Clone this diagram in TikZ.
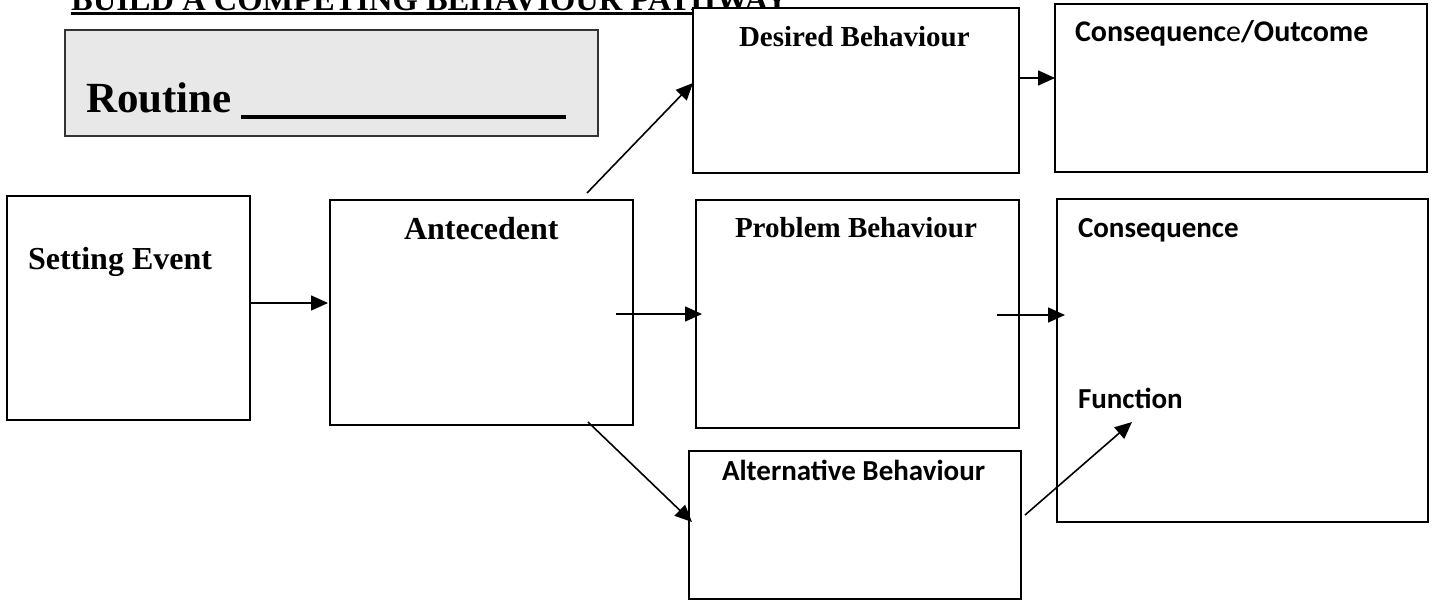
\documentclass[tikz,border=0pt]{standalone}
\usepackage{fontspec}
\setmainfont{Liberation Serif}
\newfontfamily\calfont{Carlito}
\usetikzlibrary{arrows.meta}
\tikzset{
  box/.style={draw=black, line width=1.6pt, fill=white, rectangle, inner sep=0pt, outer sep=0pt, anchor=north west},
  lbl/.style={inner sep=0pt, outer sep=0pt, anchor=base west, font=\bfseries\fontsize{29pt}{29pt}\selectfont},
  biglbl/.style={inner sep=0pt, outer sep=0pt, anchor=base west, font=\bfseries\fontsize{32pt}{32pt}\selectfont},
  clbl/.style={inner sep=0pt, outer sep=0pt, anchor=base west, font=\calfont\bfseries\fontsize{29pt}{29pt}\selectfont},
  arr/.style={line width=1.6pt, -{Triangle[length=17pt,width=15pt]}},
}
\begin{document}
\begin{tikzpicture}[x=1pt,y=-1pt]
\useasboundingbox (0,0) rectangle (1439,601);
% title
\node[inner sep=0pt, anchor=base west, font=\bfseries\fontsize{32.5pt}{32.5pt}\selectfont] (title) at (71,10.5) {BUILD A COMPETING BEHAVIOUR PATHWAY};
\draw[line width=3.3pt] (71,13.7) -- (title.base east |- 0,13.7);
% routine box
\node[box, draw=black!80, fill=black!9, minimum width=533pt, minimum height=106pt] (routine) at (65,30) {};
\node[inner sep=0pt, anchor=base west, font=\bfseries\fontsize{43pt}{43pt}\selectfont] (routinelbl) at (86,113) {Routine};
\draw[line width=3.3pt] (241,117) -- (566,117);
% boxes
\node[box, minimum width=326pt, minimum height=165pt] (desired) at (693,8) {};
\node[box, minimum width=372pt, minimum height=168pt] (outcome) at (1055,4) {};
\node[box, minimum width=243pt, minimum height=224pt] (setting) at (7,196) {};
\node[box, minimum width=303pt, minimum height=225pt] (antecedent) at (330,200) {};
\node[box, minimum width=323pt, minimum height=228pt] (problem) at (696,200) {};
\node[box, minimum width=371pt, minimum height=323pt] (consequence) at (1057,199) {};
\node[box, minimum width=332pt, minimum height=148pt] (alternative) at (689,451) {};
% labels
\node[lbl] (desiredlbl) at (739,47) {Desired Behaviour};
\node[clbl, font=\calfont\bfseries\fontsize{30pt}{30pt}\selectfont] (outcomelbl) at (1075,42) {Consequenc{\mdseries e}/Outcome};
\node[biglbl] (settinglbl) at (28,270) {Setting Event};
\node[biglbl] (antecedentlbl) at (404,240) {Antecedent};
\node[lbl] (problemlbl) at (735,238) {Problem Behaviour};
\node[clbl] (consequencelbl) at (1078,238) {Consequence};
\node[clbl] (functionlbl) at (1078,408) {Function};
\node[clbl] (alternativelbl) at (722,480) {Alternative Behaviour};
% connector ends
\coordinate (a1s) at (587,193);   \coordinate (a1e) at (693,83);
\coordinate (a2s) at (1019,78);   \coordinate (a2e) at (1055,78);
\coordinate (a3s) at (250,303);   \coordinate (a3e) at (328,303);
\coordinate (a4s) at (616,314);   \coordinate (a4e) at (702,314);
\coordinate (a5s) at (997,315);   \coordinate (a5e) at (1065,315);
\coordinate (a6s) at (588,422);   \coordinate (a6e) at (692,522);
\coordinate (a7s) at (1025,515);  \coordinate (a7e) at (1132,422);
% connectors
\draw[arr] (a1s) -- (a1e);
\draw[arr] (a2s) -- (a2e);
\draw[arr] (a3s) -- (a3e);
\draw[arr] (a4s) -- (a4e);
\draw[arr] (a5s) -- (a5e);
\draw[arr] (a6s) -- (a6e);
\draw[arr] (a7s) -- (a7e);
\end{tikzpicture}
\end{document}
